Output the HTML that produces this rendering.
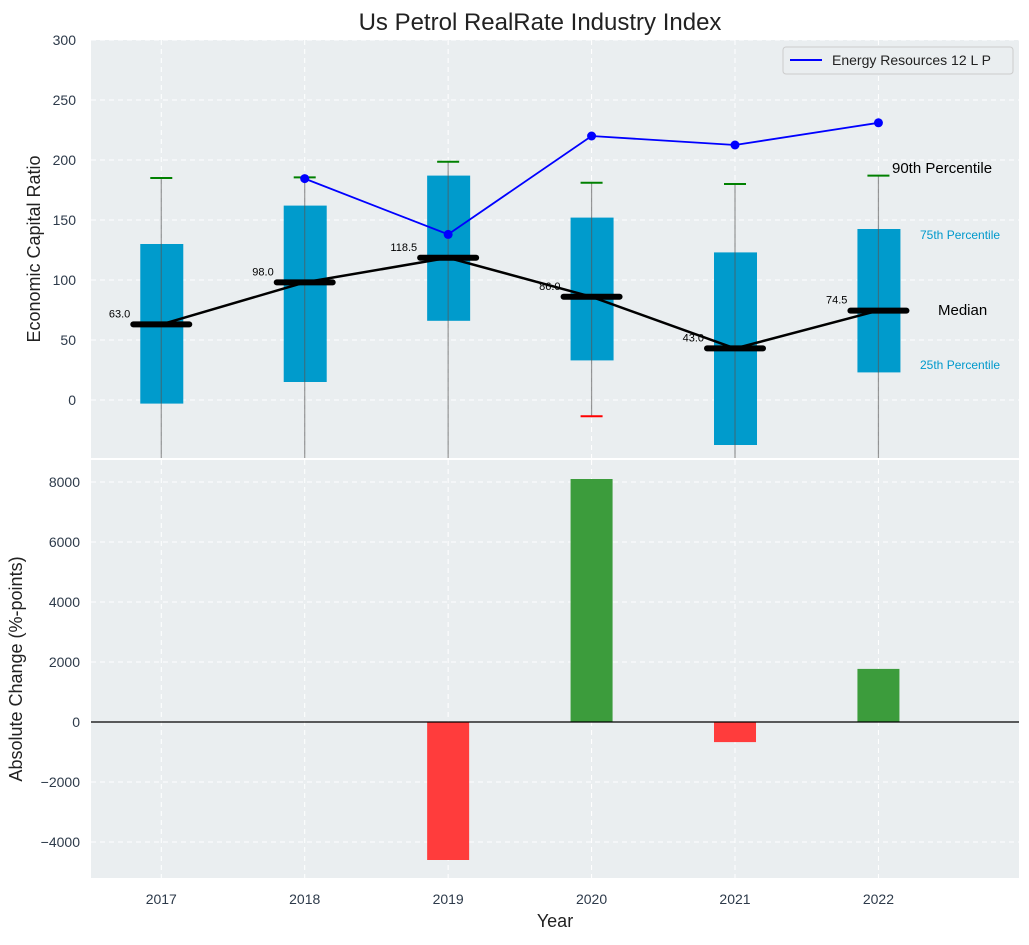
<!DOCTYPE html>
<html><head><meta charset="utf-8"><style>
body{margin:0;background:#fff;}
svg text{font-family:"Liberation Sans",sans-serif;}
</style></head><body>
<svg id="c" width="1029" height="940" xmlns="http://www.w3.org/2000/svg"></svg>
<script>
const years=[2017,2018,2019,2020,2021,2022];
const q1=[-3,15,66,33,-37.5,23];
const q3=[130,162,187,152,123,142.5];
const medians=[63,98,118.5,86,43,74.5];
const whiskHi=[185,185.5,198.5,181,180,187];
const whiskLo=[-60,-60,-60,-13.5,-60,-60];
const lowCapShown=[false,false,false,true,false,false];
const energy=[null,184.5,138,220,212.5,231];
const changes=[0,0,-4600,8100,-670,1770];
const topTicks=[0,50,100,150,200,250,300];
const botTicks=[-4000,-2000,0,2000,4000,6000,8000];

const svg=document.getElementById('c');const NS='http://www.w3.org/2000/svg';
function el(t,a,p){const e=document.createElementNS(NS,t);for(const k in a)e.setAttribute(k,a[k]);(p||svg).appendChild(e);return e;}
const L=91,R=1019;
const xs=i=>L+(i+0.49)*(R-L)/6.47;
const T0=40,T1=458,yT=v=>400-v*1.2;
const B0=460,B1=878,yB=v=>722-v*0.03;
const bg='#eaeef0',grid='#ffffff';

let g=el('g',{});
el('rect',{x:L,y:T0,width:R-L,height:T1-T0,fill:bg},g);
topTicks.forEach(t=>{el('line',{x1:L,x2:R,y1:yT(t),y2:yT(t),stroke:grid,'stroke-dasharray':'5,4'},g);
 const tx=el('text',{x:76,y:yT(t)+5,'text-anchor':'end','font-size':14,fill:'#2d3a4a'},g);tx.textContent=t;
 });
years.forEach((y,i)=>el('line',{x1:xs(i),x2:xs(i),y1:T0,y2:T1,stroke:grid,'stroke-dasharray':'5,4'},g));
years.forEach((y,i)=>{const x=xs(i);
 const b=el('rect',{x:x-21,y:yT(q3[i]),width:43,height:yT(q1[i])-yT(q3[i]),fill:'#009bcc'},g);
 
 el('line',{x1:x,x2:x,y1:yT(whiskHi[i]),y2:Math.min(T1,yT(whiskLo[i])),stroke:'#555','stroke-opacity':0.6,'stroke-width':1.2},g);
 el('line',{x1:x-11,x2:x+11,y1:yT(whiskHi[i]),y2:yT(whiskHi[i]),stroke:'green','stroke-width':2},g);
 if(lowCapShown[i])el('line',{x1:x-11,x2:x+11,y1:yT(whiskLo[i]),y2:yT(whiskLo[i]),stroke:'red','stroke-width':2},g);
});
let d='';years.forEach((y,i)=>d+=(i?'L':'M')+xs(i)+','+yT(medians[i]));
const ml=el('path',{d:d,stroke:'#000','stroke-width':2.5,fill:'none'},g);
years.forEach((y,i)=>{const x=xs(i);
 el('line',{x1:x-28,x2:x+28,y1:yT(medians[i]),y2:yT(medians[i]),stroke:'#000','stroke-width':6,'stroke-linecap':'round'},g);
 const t=el('text',{x:x-31,y:yT(medians[i])-7,'text-anchor':'end','font-size':11,fill:'#000'},g);t.textContent=medians[i].toFixed(1);
 });
let e='';energy.forEach((v,i)=>{if(v!==null)e+=(e?'L':'M')+xs(i)+','+yT(v);});
const el1=el('path',{d:e,stroke:'#0000ff','stroke-width':1.8,fill:'none'},g);
energy.forEach((v,i)=>{if(v!==null)el('circle',{cx:xs(i),cy:yT(v),r:4.5,fill:'#0000ff'},g);});
[['90th Percentile',892,173,15,'#000'],['75th Percentile',920,239,12,'#0099cc'],['Median',938,315,15,'#000'],['25th Percentile',920,369,12,'#0099cc']].forEach(a=>{
 const t=el('text',{x:a[1],y:a[2],'font-size':a[3],fill:a[4]},g);t.textContent=a[0];});
const lg=el('g',{});
el('rect',{x:783,y:47,width:230,height:27,rx:3,fill:'#eaeef0',stroke:'#ccc'},lg);
el('line',{x1:790,x2:822,y1:60,y2:60,stroke:'#0000ff','stroke-width':2},lg);
const lt=el('text',{x:832,y:65,'font-size':14,fill:'#222'},lg);lt.textContent='Energy Resources 12 L P';
const yl=el('text',{x:40,y:249,'font-size':18,fill:'#222','text-anchor':'middle',transform:'rotate(-90 40 249)'},g);yl.textContent='Economic Capital Ratio';


let h=el('g',{});
el('rect',{x:L,y:B0,width:R-L,height:B1-B0,fill:bg},h);
botTicks.forEach(t=>{el('line',{x1:L,x2:R,y1:yB(t),y2:yB(t),stroke:grid,'stroke-dasharray':'5,4'},h);
 const tx=el('text',{x:80,y:yB(t)+5,'text-anchor':'end','font-size':14,fill:'#2d3a4a'},h);tx.textContent=t<0?'\u2212'+(-t):t;
 });
years.forEach((y,i)=>{el('line',{x1:xs(i),x2:xs(i),y1:B0,y2:B1,stroke:grid,'stroke-dasharray':'5,4'},h);
 const tx=el('text',{x:xs(i),y:904,'text-anchor':'middle','font-size':14,fill:'#2d3a4a'},h);tx.textContent=y;
 });
years.forEach((y,i)=>{const v=changes[i];if(!v)return;
 const r=el('rect',{x:xs(i)-21,y:Math.min(yB(v),yB(0)),width:42,height:Math.abs(yB(v)-yB(0)),fill:v>0?'#3c9c3c':'#ff3c3c'},h);
 });
el('line',{x1:L,x2:R,y1:yB(0),y2:yB(0),stroke:'#000','stroke-width':1.2},h);
const yl2=el('text',{x:22,y:669,'font-size':18,fill:'#222','text-anchor':'middle',transform:'rotate(-90 22 669)'},h);yl2.textContent='Absolute Change (%-points)';

const xl=el('text',{x:555,y:927,'font-size':18,fill:'#222','text-anchor':'middle'},h);xl.textContent='Year';

const tt=el('text',{x:540,y:30,'font-size':24,fill:'#222','text-anchor':'middle'});tt.textContent='Us Petrol RealRate Industry Index';

</script>
</body></html>
